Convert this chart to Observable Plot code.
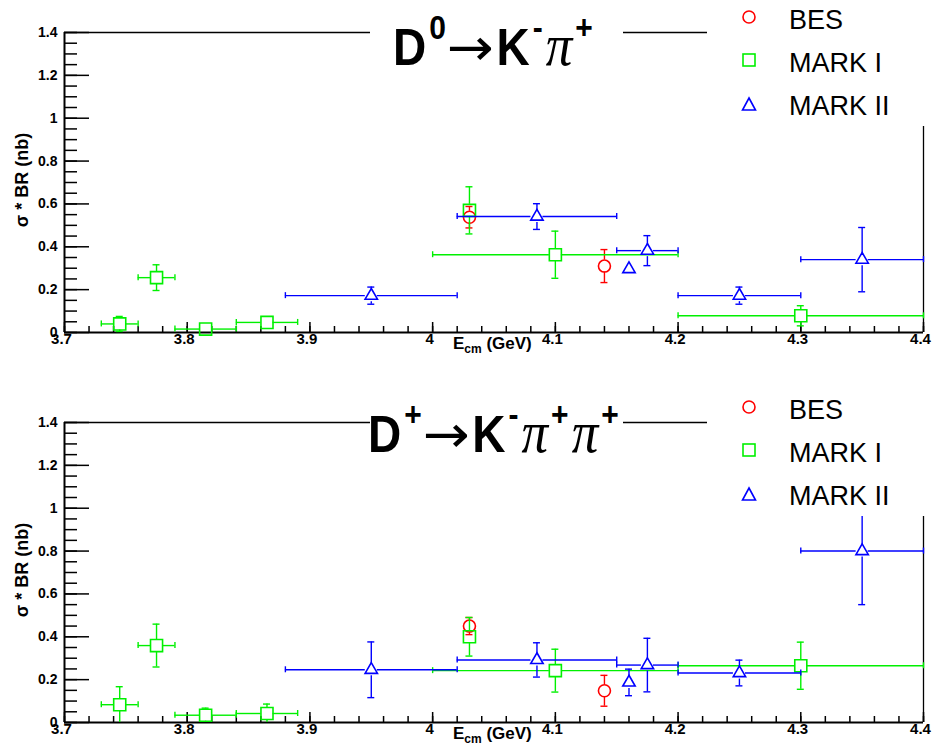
<!DOCTYPE html>
<html>
<head>
<meta charset="utf-8">
<script src="https://cdn.jsdelivr.net/npm/d3@7"></script>
<script src="https://cdn.jsdelivr.net/npm/@observablehq/plot@0.6"></script>
<style>
  body { margin: 0; background: #fff; font-family: "Liberation Sans", Arial, sans-serif; }
  .panel { position: relative; width: 933px; overflow: hidden; }
  .panel svg { display: block; }
  .cover { position: absolute; background: #fff; }
  .title { position: absolute; white-space: nowrap; font-weight: bold; font-size: 46px; line-height: 46px;
           transform: scaleY(1.12); transform-origin: 0 38.9px; color: #000; }
  .title .sup { font-size: 30px; position: relative; top: -23px; margin-left: 3px; }
  .title .arr { font-family: "DejaVu Sans", sans-serif; font-weight: normal; display: inline-block; transform: scaleX(1.22); margin: 0 7px 0 5px; }
  .title .pi { font-family: "Liberation Serif", serif; font-style: italic; font-weight: normal; font-size: 53px; margin-left: 3px; }
  .legend { position: absolute; left: 707px; top: 0; width: 226px; height: 126px; background: #fff; }
  .legend svg { position: absolute; left: 0; top: 0; }
  .legend .lt { position: absolute; left: 82px; font-size: 27px; line-height: 27px; white-space: nowrap; color: #000; }
  .ylab { position: absolute; font-weight: bold; font-size: 18px; white-space: nowrap;
          transform: translate(-50%, -50%) rotate(-90deg); }
  .xlab { position: absolute; font-weight: bold; font-size: 17px; line-height: 17px; white-space: nowrap; }
  .xlab sub { font-size: 12px; vertical-align: -4px; }
</style>
</head>
<body>
<div class="panel" id="p1" style="height:390px"></div>
<div class="panel" id="p2" style="height:360px"></div>
<script>
// ---- data ----
const energyBES = [4.03, 4.14];
const energyMarkI = [3.745, 3.775, 3.815, 3.865, 4.03, 4.10, 4.30];
const binLowMarkI = [3.73, 3.76, 3.79, 3.84, null, 4.00, 4.20];
const binHighMarkI = [3.76, 3.79, 3.84, 3.89, null, 4.20, 4.40];
const energyMarkII = [3.95, 4.085, 4.16, 4.175, 4.25, 4.35];
const binLowMarkII = [3.88, 4.02, null, 4.15, 4.20, 4.30];
const binHighMarkII = [4.02, 4.15, null, 4.20, 4.30, 4.40];

// D0 -> K- pi+
const d0BES = [0.538, 0.31];
const d0BESErr = [0.05, 0.077];
const d0MarkI = [0.04, 0.256, 0.016, 0.047, 0.57, 0.363, 0.078];
const d0MarkIErr = [0.035, 0.06, 0.01, 0.02, 0.11, 0.11, 0.047];
const d0MarkII = [0.172, 0.541, 0.296, 0.382, 0.172, 0.34];
const d0MarkIIErr = [0.04, 0.06, 0, 0.07, 0.04, 0.15];

// D+ -> K- pi+ pi+
const dpBES = [0.45, 0.148];
const dpBESErr = [0.04, 0.072];
const dpMarkI = [0.083, 0.359, 0.034, 0.042, 0.40, 0.242, 0.265];
const dpMarkIErr = [0.084, 0.10, 0.033, 0.044, 0.09, 0.10, 0.11];
const dpMarkII = [0.246, 0.292, 0.187, 0.268, 0.231, 0.80];
const dpMarkIIErr = [0.13, 0.08, 0.062, 0.125, 0.06, 0.25];

const seriesNames = ["BES", "MARK I", "MARK II"];
const seriesColors = ["#ff0000", "#00f000", "#0000ff"];
const seriesSymbols = ["circle", "square", "triangle"];

const xTickValues = [3.7, 3.8, 3.9, 4.0, 4.1, 4.2, 4.3, 4.4];
const xTickLabels = ["3.7", "3.8", "3.9", "4", "4.1", "4.2", "4.3", "4.4"];
const yTickValues = [0, 0.2, 0.4, 0.6, 0.8, 1.0, 1.2, 1.4];
const yTickLabels = ["0", "0.2", "0.4", "0.6", "0.8", "1", "1.2", "1.4"];
const xMinorTicks = d3.range(0, 36).map(i => 3.7 + i * 0.02);
const yMinorTicks = d3.range(0, 29).map(i => i * 0.05);

function rowsOf(energy, vals, errs, lo, hi) {
  return energy.map((x, i) => ({x, y: vals[i], err: errs[i], lo: lo ? lo[i] : null, hi: hi ? hi[i] : null}));
}

const PLOT_H = 300; // plot area height in px
const ky = PLOT_H / 1.4;
const GAP = 6;

function seriesMarks(rows, color, symbol, r) {
  const v = rows.filter(d => d.err * ky > GAP);
  const vLow = v.filter(d => d.y - d.err > 0.002);
  const h = rows.filter(d => d.lo != null);
  const sw = 1.4;
  return [
    Plot.ruleX(v, {x: "x", y1: d => d.y + d.err, y2: "y", insetBottom: GAP, stroke: color, strokeWidth: sw}),
    Plot.ruleX(v, {x: "x", y1: "y", y2: d => Math.max(0, d.y - d.err), insetTop: GAP, stroke: color, strokeWidth: sw}),
    Plot.ruleY(v, {y: d => d.y + d.err, x1: "x", x2: "x", insetLeft: -3.5, insetRight: -3.5, stroke: color, strokeWidth: sw}),
    Plot.ruleY(vLow, {y: d => d.y - d.err, x1: "x", x2: "x", insetLeft: -3.5, insetRight: -3.5, stroke: color, strokeWidth: sw}),
    Plot.ruleY(h, {y: "y", x1: "lo", x2: "x", insetRight: GAP, stroke: color, strokeWidth: sw}),
    Plot.ruleY(h, {y: "y", x1: "x", x2: "hi", insetLeft: GAP, stroke: color, strokeWidth: sw}),
    Plot.ruleX(h, {x: "lo", y1: "y", y2: "y", insetTop: -3, insetBottom: -3, stroke: color, strokeWidth: sw}),
    Plot.ruleX(h, {x: "hi", y1: "y", y2: "y", insetTop: -3, insetBottom: -3, stroke: color, strokeWidth: sw}),
    Plot.dot(rows, {x: "x", y: "y", symbol, r, stroke: color, fill: "none", strokeWidth: 1.6})
  ];
}

function makePlot(bes, besErr, m1, m1Err, m2, m2Err, height) {
  const besRows = rowsOf(energyBES, bes, besErr, null, null);
  const m1Rows = rowsOf(energyMarkI, m1, m1Err, binLowMarkI, binHighMarkI);
  const m2Rows = rowsOf(energyMarkII, m2, m2Err, binLowMarkII, binHighMarkII);
  const yMajor = yTickValues.map((v, i) => ({v, label: yTickLabels[i]}));
  const xMajor = xTickValues.map((v, i) => ({v, label: xTickLabels[i]}));
  return Plot.plot({
    width: 933,
    height,
    marginLeft: 64,
    marginRight: 10,
    marginTop: 32,
    marginBottom: height - 32 - PLOT_H,
    x: {domain: [3.7, 4.4], axis: null},
    y: {domain: [0, 1.4], axis: null},
    style: {fontFamily: "'Liberation Sans', Arial, sans-serif", background: "transparent", overflow: "visible"},
    marks: [
      // frame
      Plot.ruleY([1.4], {stroke: "#000", strokeWidth: 1.3}),
      Plot.ruleX([4.4], {stroke: "#000", strokeWidth: 1.3}),
      // ticks
      Plot.ruleY(yMinorTicks, {y: d => d, x1: 3.7, x2: 3.7, insetRight: -13, stroke: "#000", strokeWidth: 1.5}),
      Plot.ruleY(yTickValues, {y: d => d, x1: 3.7, x2: 3.7, insetRight: -25, stroke: "#000", strokeWidth: 1.5}),
      Plot.ruleX(xMinorTicks, {x: d => d, y1: 0, y2: 0, insetTop: -6, stroke: "#000", strokeWidth: 1.5}),
      Plot.ruleX(xTickValues, {x: d => d, y1: 0, y2: 0, insetTop: -10, stroke: "#000", strokeWidth: 1.5}),
      Plot.ruleY([0], {stroke: "#000", strokeWidth: 2}),
      Plot.ruleX([3.7], {stroke: "#000", strokeWidth: 2}),
      Plot.text(yMajor, {x: 3.7, y: "v", text: "label", dx: -7, textAnchor: "end", fontSize: 14, fontWeight: "bold", fill: "#000"}),
      Plot.text(xMajor, {x: "v", y: 0, text: "label", dx: -3, dy: 1, lineAnchor: "top", fontSize: 15, fontWeight: "bold", fill: "#000"}),
      // data
      ...seriesMarks(besRows, seriesColors[0], seriesSymbols[0], 6),
      ...seriesMarks(m1Rows, seriesColors[1], seriesSymbols[1], 6.8),
      ...seriesMarks(m2Rows, seriesColors[2], seriesSymbols[2], 4.6)
    ]
  });
}

function legendHTML() {
  const ys = [17, 60, 105];
  const tops = [6.5, 49.5, 93];
  let svg = `<svg width="226" height="126">`;
  svg += `<circle cx="42" cy="${ys[0]}" r="6" fill="none" stroke="${seriesColors[0]}" stroke-width="1.6"/>`;
  svg += `<rect x="36" y="${ys[1] - 6}" width="12" height="12" fill="none" stroke="${seriesColors[1]}" stroke-width="1.6"/>`;
  svg += `<path d="M42,${ys[2] - 7} L48.5,${ys[2] + 5} L35.5,${ys[2] + 5} Z" fill="none" stroke="${seriesColors[2]}" stroke-width="1.6"/>`;
  svg += `</svg>`;
  return svg + seriesNames.map((n, i) => `<div class="lt" style="top:${tops[i]}px">${n}</div>`).join("");
}

function decorate(panel, titleHTML, titleLeft, titleTop) {
  const cover = document.createElement("div");
  cover.className = "cover";
  cover.style.cssText = "left:370px;top:26px;width:253px;height:12px";
  panel.appendChild(cover);
  const t = document.createElement("div");
  t.className = "title";
  t.style.left = titleLeft + "px";
  t.style.top = titleTop + "px";
  t.innerHTML = titleHTML;
  panel.appendChild(t);
  const lg = document.createElement("div");
  lg.className = "legend";
  lg.innerHTML = legendHTML();
  panel.appendChild(lg);
  const yl = document.createElement("div");
  yl.className = "ylab";
  yl.style.left = "22px";
  yl.style.top = "180px";
  yl.textContent = "σ * BR (nb)";
  panel.appendChild(yl);
  const xl = document.createElement("div");
  xl.className = "xlab";
  xl.style.left = "453px";
  xl.style.top = "335px";
  xl.innerHTML = "E<sub>cm</sub> (GeV)";
  panel.appendChild(xl);
}

const p1 = document.getElementById("p1");
p1.appendChild(makePlot(d0BES, d0BESErr, d0MarkI, d0MarkIErr, d0MarkII, d0MarkIIErr, 390));
decorate(p1, 'D<span class="sup">0</span><span class="arr">→</span>K<span class="sup">-</span><span class="pi">π</span><span class="sup">+</span>', 393, 24);

const p2 = document.getElementById("p2");
p2.appendChild(makePlot(dpBES, dpBESErr, dpMarkI, dpMarkIErr, dpMarkII, dpMarkIIErr, 360));
decorate(p2, 'D<span class="sup">+</span><span class="arr">→</span>K<span class="sup">-</span><span class="pi">π</span><span class="sup">+</span><span class="pi">π</span><span class="sup">+</span>', 368, 21);
</script>
</body>
</html>
